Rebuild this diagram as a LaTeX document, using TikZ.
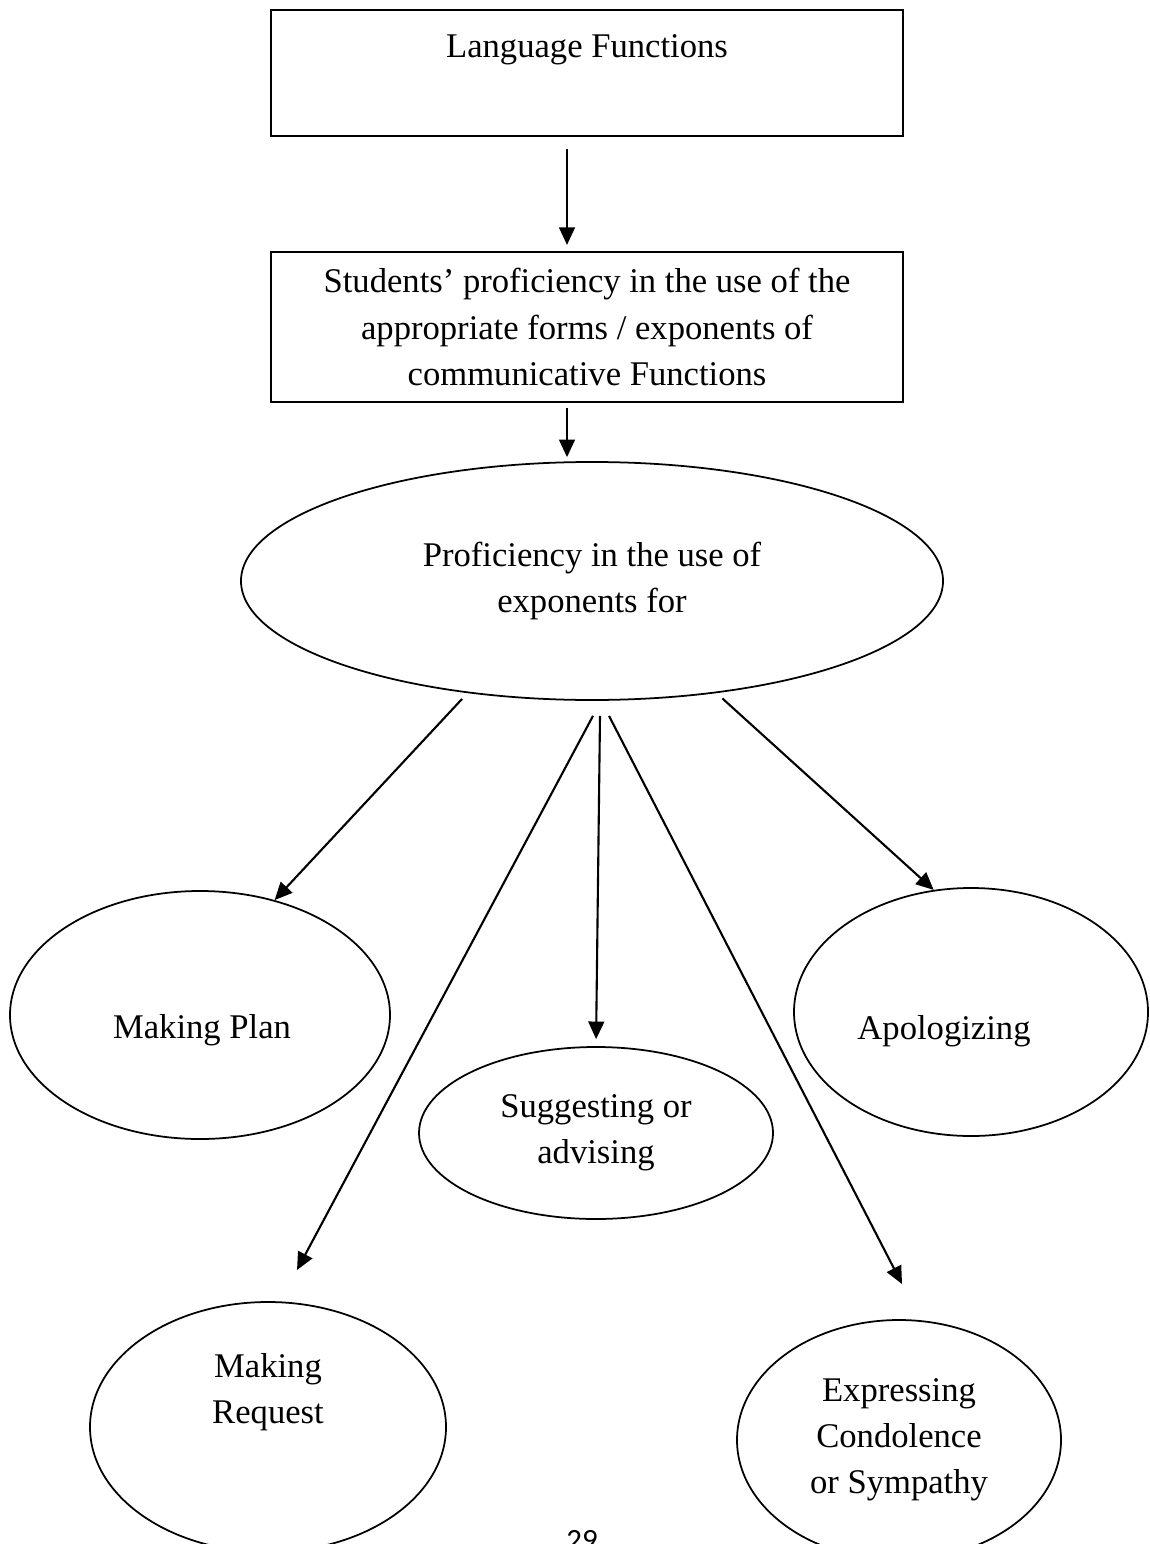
\documentclass[tikz,border=0pt]{standalone}
\usepackage{fontspec}
\setmainfont{Liberation Serif}
\newfontfamily\pagefont{Carlito}
\usetikzlibrary{arrows.meta,positioning,shapes.geometric}
\definecolor{ink}{HTML}{000000}
\newcommand{\bodyfont}{\fontsize{19.7}{26.2}\selectfont}
\tikzset{
  funcbox/.style={
    rectangle, draw=ink, line width=1.2pt,
    minimum width=12.64cm, inner sep=0pt,
    font=\bodyfont, align=center
  },
  bubble/.style={
    ellipse, draw=ink, line width=1pt, inner sep=0pt,
    font=\bodyfont, align=center
  },
  plaintext/.style={
    font=\bodyfont, align=center, inner sep=0pt
  },
  flowarrow/.style={
    -{Triangle[length=10pt,width=9pt]}, line width=1.2pt, color=ink
  },
}

\begin{document}
\begin{tikzpicture}[x=0.2mm, y=-0.2mm]
  \useasboundingbox (0,0) rectangle (1149,1544);

  % Boxes
  \node[funcbox, minimum height=2.52cm] (lang) at (587,73) {};
  \node[plaintext] (langtext) at (587,50) {Language Functions};
  \node[funcbox, minimum height=3.0cm] (stud) at (587,327)
    {Students’ proficiency in the use of the\\appropriate forms / exponents of\\communicative Functions};

  % Central ellipse
  \node[bubble, minimum width=14.04cm, minimum height=4.76cm] (prof) at (592,581)
    {Proficiency in the use of\\exponents for};

  % Functions
  \node[bubble, minimum width=7.6cm, minimum height=4.96cm] (plan) at (200,1015) {};
  \node[plaintext] (plantext) at (202,1030) {Making Plan};
  \node[bubble, minimum width=7.08cm, minimum height=3.44cm] (sugg) at (596,1133)
    {Suggesting or\\advising};
  \node[bubble, minimum width=7.08cm, minimum height=4.96cm] (apol) at (971,1012) {};
  \node[plaintext] (apoltext) at (944,1031) {Apologizing};
  \node[bubble, minimum width=7.12cm, minimum height=5.0cm] (req) at (268,1427) {};
  \node[plaintext] (reqtext) at (268,1392) {Making\\Request};
  \node[bubble, minimum width=6.48cm, minimum height=4.8cm] (expr) at (899,1440)
    {Expressing\\Condolence\\or Sympathy};

  % Page number
  \node[font=\pagefont\fontsize{17.6}{20}\selectfont, anchor=base] (pagenum) at (582,1550) {29};

  % Arrows
  \coordinate (reqtip) at (297,1270);
  \coordinate (exprtip) at (902,1284);
  \draw[flowarrow, shorten <=0.24cm, shorten >=0.12cm]
    ([xshift=-0.4cm]lang.south) -- ([xshift=-0.4cm]stud.north);
  \draw[flowarrow, shorten <=0.1cm, shorten >=0.08cm]
    ([xshift=-0.4cm]stud.south) -- ([xshift=-0.4cm]stud.south |- prof.north);
  \draw[flowarrow, shorten <=0.16cm] (prof.-138) -- (plan.57);
  \draw[flowarrow] ([shift={(1,15)}]prof.south) -- (reqtip);
  \draw[flowarrow, shorten >=0.14cm] ([shift={(8,15)}]prof.south) -- (sugg.north);
  \draw[flowarrow] ([shift={(17,15)}]prof.south) -- (exprtip);
  \draw[flowarrow, shorten <=0.16cm] (prof.-42) -- (apol.107);
\end{tikzpicture}
\end{document}
